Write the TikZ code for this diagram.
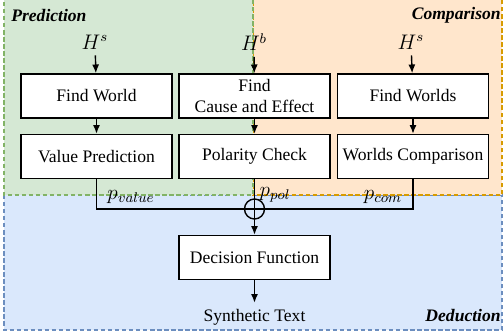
\documentclass[tikz,border=0pt]{standalone}
\usepackage{fontspec}
\setmainfont{Liberation Serif}
\usepackage{amsmath}
\usetikzlibrary{arrows.meta}
\definecolor{predfill}{HTML}{D5E8D4}
\definecolor{preddraw}{HTML}{82B366}
\definecolor{compfill}{HTML}{FFE6CC}
\definecolor{compdraw}{HTML}{D79B00}
\definecolor{dedfill}{HTML}{DAE8FC}
\definecolor{deddraw}{HTML}{6C8EBF}
\begin{document}
\begin{tikzpicture}[x=0.02cm, y=-0.02cm,
    box/.style={draw, thick, fill=white, minimum width=3.02cm, minimum height=0.88cm, inner sep=1pt, align=center, font=\normalsize},
    flow/.style={thick, -{Latex[length=5pt,width=4pt]}},
    zone/.style={line width=0.6pt, dash pattern=on 2.5pt off 1.5pt},
    zonetitle/.style={font=\bfseries\itshape, inner sep=0pt}]
\useasboundingbox (0,0) rectangle (504,333);
\filldraw [zone, fill=dedfill, draw=deddraw] (4,195) rectangle (502,330);
\filldraw [zone, fill=compfill, draw=compdraw] (253,-5) rectangle (502,195);
\filldraw [zone, fill=predfill, draw=preddraw] (4,-5) rectangle (253,195);
\node [zonetitle, anchor=west] (TP) at (11,15) {Prediction};
\node [zonetitle, anchor=east] (TC) at (501,15) {Comparison};
\node [zonetitle, anchor=east] (TD) at (501,316) {Deduction};
\node (HL) at (95,42) {\large $H^s$};
\node (HM) at (254,42) {\large $H^b$};
\node (HR) at (411,42) {\large $H^s$};
\node [box] (FW) at (96.5,96) {Find World};
\node [box] (CE) at (254.5,96) {Find\\Cause and Effect};
\node [box] (FS) at (413,96) {Find Worlds};
\node [box] (VP) at (96.5,156.5) {Value Prediction};
\node [box] (PC) at (254.5,156.5) {Polarity Check};
\node [box] (WC) at (413,156.5) {Worlds Comparison};
\node [draw, thick, circle, minimum size=0.4cm, inner sep=0pt] (OP) at (254.5,209) {};
\node [box] (DF) at (254.5,257.5) {Decision Function};
\node (ST) at (254.5,317) {Synthetic Text};
\node (PV) at (131,197) {\large $p_{value}$};
\node (PP) at (275,195) {\large $p_{pol}$};
\node (PM) at (383,197) {\large $p_{com}$};
\draw [flow] (HL) -- (FW);
\draw [flow] (HM) -- (CE);
\draw [flow] (HR) -- (FS);
\draw [flow] (FW) -- (VP);
\draw [flow] (CE) -- (PC);
\draw [flow] (FS) -- (WC);
\draw [thick] (VP.south) |- (OP.center);
\draw [thick] (WC.south) |- (OP.center);
\draw [thick] (PC.south) -- (OP.center);
\draw [flow] (OP.center) -- (DF.north);
\draw [flow] (DF.south) -- (ST);
\end{tikzpicture}
\end{document}
